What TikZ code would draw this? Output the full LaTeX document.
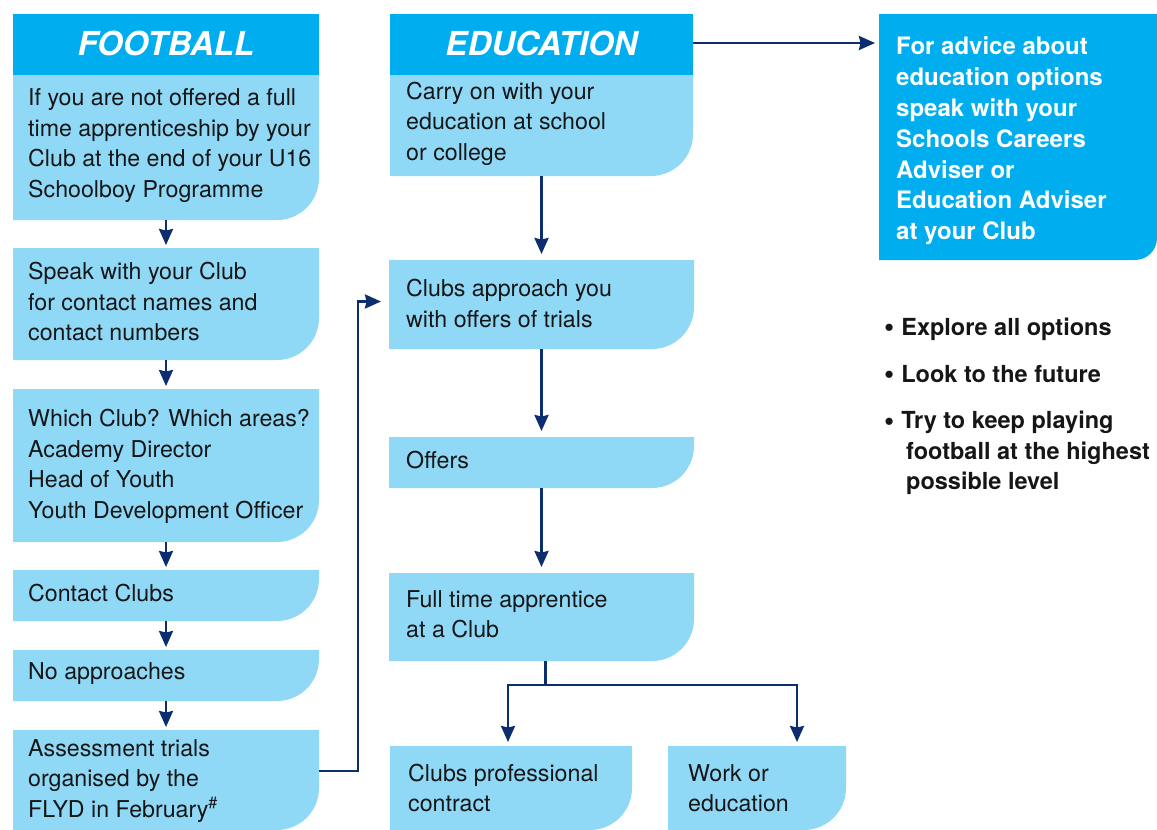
\documentclass[tikz,border=0pt]{standalone}
\usepackage{fontspec}
\setmainfont{TeX Gyre Heros}
\usetikzlibrary{arrows.meta,calc}
\definecolor{cyanh}{RGB}{0,174,239}
\definecolor{lightb}{RGB}{143,217,247}
\definecolor{navy}{RGB}{12,46,110}
\definecolor{ink}{RGB}{22,22,22}
\newcommand\bigbul{\raisebox{-1.5pt}{\fontsize{29}{29}\selectfont\textbullet}\hspace{7pt}}
\tikzset{
  hbox/.style={rectangle, fill=cyanh, inner sep=0pt, outer sep=0pt, anchor=north west,
    text=white, font=\fontsize{33}{36}\selectfont\bfseries\itshape},
  lbox/.style={rectangle, inner sep=0pt, outer sep=0pt, anchor=north west,
    path picture={\fill[lightb] (path picture bounding box.north west) -- (path picture bounding box.north east)
      -- ([yshift=42pt]path picture bounding box.south east) arc[start angle=0,end angle=-90,radius=42pt]
      -- (path picture bounding box.south west) -- cycle;}},
  advbox/.style={rectangle, inner sep=0pt, outer sep=0pt, anchor=north west,
    path picture={\fill[cyanh] (path picture bounding box.north west) -- (path picture bounding box.north east)
      -- ([yshift=22pt]path picture bounding box.south east) arc[start angle=0,end angle=-90,radius=22pt]
      -- (path picture bounding box.south west) -- cycle;}},
  txt/.style={font=\fontsize{23.2}{30.5}\selectfont, align=left, inner sep=0pt, text=ink, anchor=west},
  advtxt/.style={font=\fontsize{24}{30.8}\selectfont\bfseries, align=left, inner sep=0pt, text=white, anchor=west},
  bultxt/.style={font=\fontsize{23.5}{30.5}\selectfont\bfseries, align=left, inner sep=0pt, text=ink},
  arr/.style={draw=navy, line width=2.6pt, -{Stealth[length=16pt,width=14pt,inset=1.5pt]}},
}
\begin{document}
\begin{tikzpicture}[x=1pt,y=-1pt]
\useasboundingbox (0,0) rectangle (1157,830);

% ---------- FOOTBALL column ----------
\node[hbox, minimum width=306pt, minimum height=61pt] (fh) at (13,14) {\raisebox{3pt}{FOOTBALL}};
\node[lbox, minimum width=306pt, minimum height=145pt] (f1) at (13,75) {};
\node[lbox, minimum width=306pt, minimum height=112pt] (f2) at (13,248) {};
\node[lbox, minimum width=306pt, minimum height=153pt] (f3) at (13,389) {};
\node[lbox, minimum width=306pt, minimum height=51pt] (f4) at (13,570) {};
\node[lbox, minimum width=306pt, minimum height=51pt] (f5) at (13,650) {};
\node[lbox, minimum width=306pt, minimum height=100pt] (f6) at (13,730) {};

\node[txt] (t1) at ($(f1.west)+(15,-2)$) {If you are not offered a full\\time apprenticeship by your\\Club at the end of your U16\\Schoolboy Programme};
\node[txt] (t2) at ($(f2.west)+(15,-2)$) {Speak with your Club\\for contact names and\\contact numbers};
\node[txt] (t3) at ($(f3.west)+(15,1)$) {Which Club? Which areas?\\Academy Director\\Head of Youth\\Youth Development Officer};
\node[txt] (t4) at ($(f4.west)+(15,-2)$) {Contact Clubs};
\node[txt] (t5) at ($(f5.west)+(15,-2)$) {No approaches};
\node[txt] (t6) at ($(f6.west)+(15,1)$) {Assessment trials\\organised by the\\FLYD in February\textsuperscript{\#}};

\draw[arr, shorten >=3pt] (f1.south) -- (f2.north);
\draw[arr, shorten >=3pt] (f2.south) -- (f3.north);
\draw[arr, shorten >=3pt] (f3.south) -- (f4.north);
\draw[arr, shorten >=3pt] (f4.south) -- (f5.north);
\draw[arr, shorten >=3pt] (f5.south) -- (f6.north);

% ---------- EDUCATION column ----------
\node[hbox, minimum width=303pt, minimum height=61pt] (eh) at (390,14) {\raisebox{3pt}{EDUCATION}};
\node[lbox, minimum width=303pt, minimum height=101pt] (e1) at (390,75) {};
\node[lbox, minimum width=305pt, minimum height=89pt] (e2) at (389,260) {};
\node[lbox, minimum width=305pt, minimum height=51pt] (e3) at (389,437) {};
\node[lbox, minimum width=305pt, minimum height=88pt] (e4) at (389,573) {};
\node[lbox, minimum width=242pt, minimum height=84pt] (c5) at (390,746) {};
\node[lbox, minimum width=178pt, minimum height=84pt] (w5) at (668,746) {};

\node[txt] (te1) at ($(e1.west)+(16,-2)$) {Carry on with your\\education at school\\or college};
\node[txt] (te2) at ($(e2.west)+(17,-1)$) {Clubs approach you\\with offers of trials};
\node[txt] (te3) at ($(e3.west)+(17,-2)$) {Offers};
\node[txt] (te4) at ($(e4.west)+(17,-3)$) {Full time apprentice\\at a Club};
\node[txt] (tc5) at ($(c5.west)+(18,0)$) {Clubs professional\\contract};
\node[txt] (tw5) at ($(w5.west)+(20,0)$) {Work or\\education};

\draw[arr, shorten >=6pt] (e1.south) -- (e2.north);
\draw[arr, shorten >=6pt] (e2.south) -- (e3.north);
\draw[arr, shorten >=6pt] (e3.south) -- (e4.north);
\draw[arr, shorten >=4pt] ([xshift=4pt]e4.south) -- ++(0,24) coordinate (fork) -| ([xshift=-3pt]c5.north);
\draw[arr, shorten >=4pt] (fork) -| ([xshift=40pt]w5.north);

% cross connector football -> education
\draw[arr, shorten >=8pt] ([yshift=9pt]f6.east) -- ++(39,0) |- ([yshift=3pt]e2.west);

% ---------- advice box ----------
\node[advbox, minimum width=278pt, minimum height=246pt] (adv) at (879,14) {};
\node[advtxt] (tadv) at ($(adv.west)+(17,4)$) {For advice about\\education options\\speak with your\\Schools Careers\\Adviser or\\Education Adviser\\at your Club};
\draw[arr, shorten >=4pt] ([yshift=1.5pt]eh.east) -- ([yshift=1.5pt]eh.east -| adv.west);

% ---------- bullets ----------
\node[bultxt, anchor=base west] (b1) at (884,335) {\bigbul Explore all options};
\node[bultxt, anchor=base west] (b2) at (884,382) {\bigbul Look to the future};
\node[bultxt, anchor=north west] (b3) at (884,411) {\bigbul Try to keep playing\\\hspace*{22pt}football at the highest\\\hspace*{22pt}possible level};
\end{tikzpicture}
\end{document}
